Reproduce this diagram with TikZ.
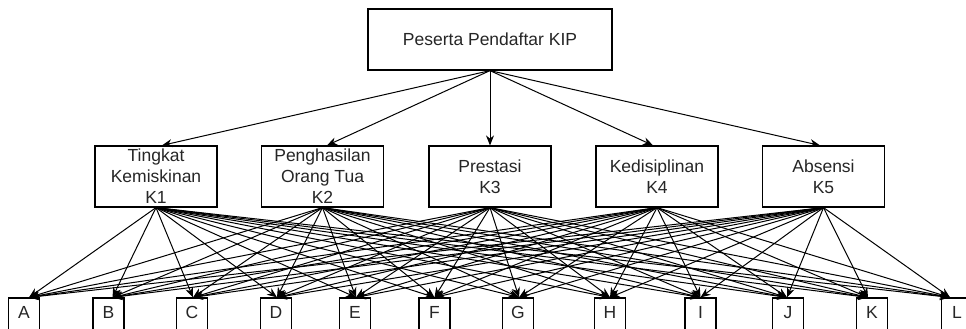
\documentclass[tikz,border=0pt]{standalone}
\usepackage{fontspec}
\setmainfont{Liberation Sans}
\usetikzlibrary{arrows.meta}
\tikzset{
  box/.style={draw, line width=1.2pt, rectangle, inner sep=0pt, align=center,
    text=black!85, font=\fontsize{17.5}{21}\selectfont},
  rootbox/.style={box, minimum width=244pt, minimum height=61pt},
  crit/.style={box, minimum width=122pt, minimum height=61pt},
  alt/.style={box, minimum width=31pt, minimum height=32pt},
  link/.style={line width=1pt, -{Stealth[length=10pt,width=8pt]}}
}
\begin{document}
\begin{tikzpicture}[x=1pt,y=-1pt]
\clip (0,0) rectangle (966,329);
\fill[white] (0,0) rectangle (966,329);
\node[rootbox] (top) at (490,39.5) {Peserta Pendaftar KIP};
\node[crit] (K1) at (156,176.5) {Tingkat\\Kemiskinan\\K1};
\node[crit] (K2) at (322.5,176.5) {Penghasilan\\Orang Tua\\K2};
\node[crit] (K3) at (490,176.5) {Prestasi\\K3};
\node[crit] (K4) at (657,176.5) {Kedisiplinan\\K4};
\node[crit] (K5) at (823.5,176.5) {Absensi\\K5};
\foreach \n/\x in {A/24,B/108.5,C/192,D/276,E/355,F/434.5,G/518,H/610,I/700.5,J/788,K/872,L/957}
  \node[alt, text depth=3pt] (\n) at (\x,314) {\n};
\draw[link] (top.south) -- ([xshift=6pt]K1.north);
\draw[link] (top.south) -- ([xshift=4.5pt]K2.north);
\draw[link] (top.south) -- (K3.north);
\draw[link] (top.south) -- ([xshift=-4pt]K4.north);
\draw[link] (top.south) -- ([xshift=-3.5pt]K5.north);
\foreach \k in {K1,K2,K3,K4,K5}
  \foreach \l/\dx in {A/5,B/4,C/1,D/1,E/1,F/0,G/1,H/0,I/0,J/-1,K/-4,L/-7}
    \draw[link] (\k.south) -- ([xshift=\dx pt]\l.north);
\end{tikzpicture}
\end{document}
